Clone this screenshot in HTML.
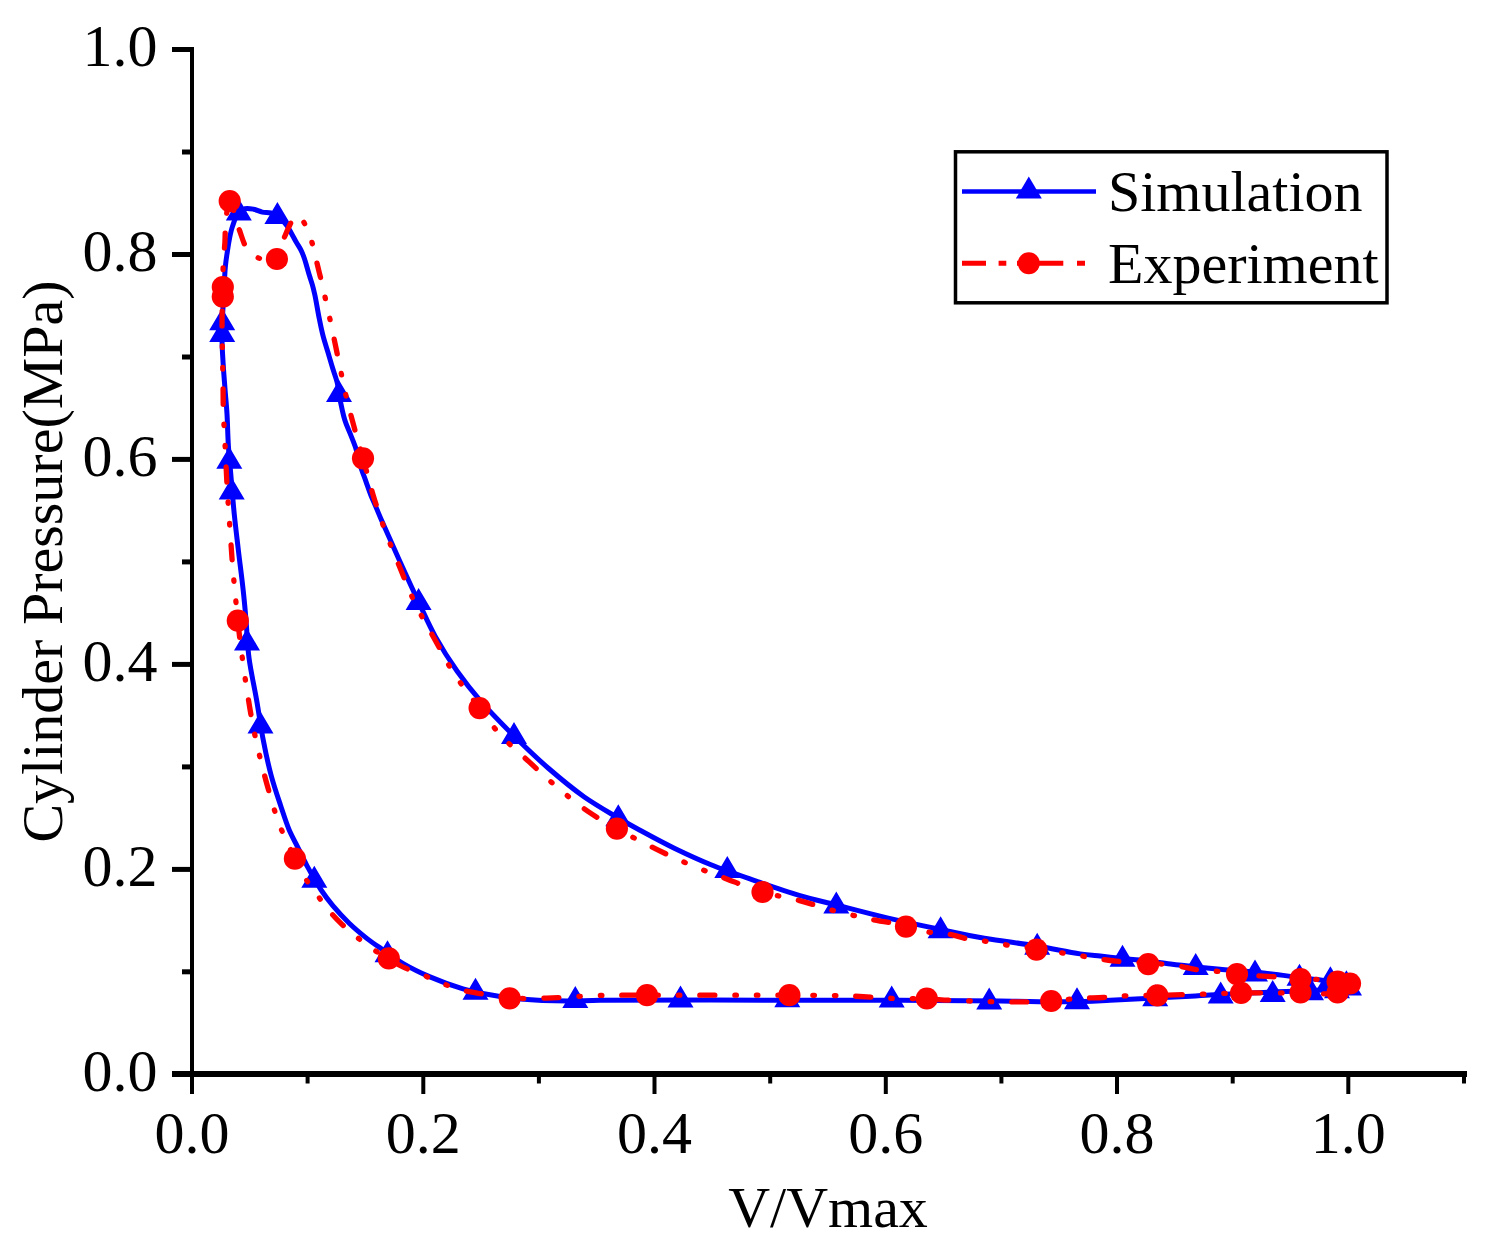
<!DOCTYPE html>
<html><head><meta charset="utf-8"><style>
html,body{margin:0;padding:0;background:#fff;}
svg{display:block;}
text{font-family:"Liberation Serif",serif;fill:#000;}
</style></head><body>
<svg width="1492" height="1253" viewBox="0 0 1492 1253">
<rect width="1492" height="1253" fill="#fff"/>
<!-- axes -->
<g stroke="#000" fill="none">
<line x1="192" y1="47" x2="192" y2="1077" stroke-width="4"/>
<line x1="172" y1="1074" x2="1467" y2="1074" stroke-width="6"/>
</g>
<g stroke="#000" stroke-width="4">
<line x1="192" y1="1074" x2="192" y2="1094"/>
<line x1="307.6" y1="1074" x2="307.6" y2="1083.5"/>
<line x1="423.3" y1="1074" x2="423.3" y2="1094"/>
<line x1="538.9" y1="1074" x2="538.9" y2="1083.5"/>
<line x1="654.5" y1="1074" x2="654.5" y2="1094"/>
<line x1="770.2" y1="1074" x2="770.2" y2="1083.5"/>
<line x1="885.8" y1="1074" x2="885.8" y2="1094"/>
<line x1="1001.4" y1="1074" x2="1001.4" y2="1083.5"/>
<line x1="1117" y1="1074" x2="1117" y2="1094"/>
<line x1="1232.7" y1="1074" x2="1232.7" y2="1083.5"/>
<line x1="1348.3" y1="1074" x2="1348.3" y2="1094"/>
<line x1="1464" y1="1074" x2="1464" y2="1083.5"/>
</g>
<g stroke="#000" stroke-width="5">
<line x1="172" y1="49.5" x2="192" y2="49.5"/>
<line x1="182" y1="152" x2="192" y2="152"/>
<line x1="172" y1="254.5" x2="192" y2="254.5"/>
<line x1="182" y1="357" x2="192" y2="357"/>
<line x1="172" y1="459.4" x2="192" y2="459.4"/>
<line x1="182" y1="561.9" x2="192" y2="561.9"/>
<line x1="172" y1="664.4" x2="192" y2="664.4"/>
<line x1="182" y1="766.9" x2="192" y2="766.9"/>
<line x1="172" y1="869.4" x2="192" y2="869.4"/>
<line x1="182" y1="971.8" x2="192" y2="971.8"/>
</g>
<!-- y tick labels -->
<g font-size="60" text-anchor="end">
<text x="157.5" y="66">1.0</text>
<text x="157.5" y="271">0.8</text>
<text x="157.5" y="476">0.6</text>
<text x="157.5" y="681">0.4</text>
<text x="157.5" y="886">0.2</text>
<text x="157.5" y="1091">0.0</text>
</g>
<!-- x tick labels -->
<g font-size="60" text-anchor="middle">
<text x="192" y="1153">0.0</text>
<text x="423.3" y="1153">0.2</text>
<text x="654.5" y="1153">0.4</text>
<text x="885.8" y="1153">0.6</text>
<text x="1117" y="1153">0.8</text>
<text x="1348.3" y="1153">1.0</text>
</g>
<text x="828" y="1227" font-size="58" text-anchor="middle">V/Vmax</text>
<text transform="translate(62,561.5) rotate(-90)" font-size="58" text-anchor="middle">Cylinder Pressure(MPa)</text>
<!-- plot -->
<path d="M1348.0 984.0 C1342.0 983.2 1335.5 982.3 1330.0 981.5 C1325.4 980.8 1321.8 980.1 1317.2 979.5 C1311.8 978.8 1306.4 978.3 1299.5 977.5 C1289.6 976.3 1276.2 974.4 1263.6 973.1 C1249.8 971.6 1232.4 970.3 1220.0 969.2 C1210.7 968.4 1203.9 967.8 1195.7 967.0 C1187.4 966.1 1179.3 965.2 1170.5 964.1 C1160.9 962.9 1149.1 961.1 1140.4 960.1 C1133.7 959.4 1128.8 959.1 1122.5 958.5 C1115.5 957.8 1107.4 956.9 1100.2 956.1 C1093.3 955.4 1088.0 955.1 1080.0 953.9 C1068.4 952.2 1052.2 948.5 1037.2 946.0 C1020.5 943.2 1001.1 941.2 984.4 938.3 C969.1 935.6 955.9 932.7 940.6 929.5 C923.7 926.0 904.8 922.0 887.2 917.9 C870.0 913.9 851.8 909.0 836.3 905.0 C823.2 901.6 812.6 899.3 800.0 895.6 C786.0 891.5 770.9 886.2 756.2 881.1 C741.2 875.9 725.1 870.5 711.0 864.8 C698.2 859.6 686.8 854.3 674.8 848.5 C662.6 842.6 648.9 835.1 638.6 829.5 C630.8 825.3 625.9 822.5 618.3 818.0 C608.4 812.1 595.6 804.9 584.3 797.0 C572.2 788.4 559.8 778.1 548.1 768.0 C536.4 757.8 525.2 747.0 514.0 736.0 C502.7 724.8 490.6 712.6 480.7 701.2 C471.9 691.0 464.5 681.6 457.0 671.0 C449.3 660.1 441.9 648.3 435.4 636.6 C429.1 625.3 424.4 614.2 418.6 602.0 C412.2 588.5 404.1 570.7 398.8 559.0 C395.2 551.0 392.7 545.3 389.8 538.8 C387.1 532.8 384.5 526.9 382.1 521.5 C380.0 516.8 378.3 512.6 376.4 508.1 C374.5 503.6 372.5 499.2 370.7 494.7 C369.0 490.3 367.5 485.8 365.9 481.3 C364.3 476.8 362.7 472.9 361.1 467.9 C359.1 461.7 357.3 452.9 355.3 446.8 C353.7 442.1 352.2 438.7 350.5 434.4 C348.7 429.8 346.5 425.6 344.8 420.0 C342.5 412.7 340.3 400.8 339.0 394.0 C338.2 389.7 338.3 387.2 337.4 383.4 C336.3 378.7 334.2 373.3 332.6 368.1 C331.0 362.8 329.4 357.2 327.8 351.8 C326.2 346.4 324.4 341.1 323.0 335.6 C321.5 330.0 320.5 324.6 319.2 318.3 C317.7 310.9 316.1 300.4 314.7 294.2 C313.8 290.3 313.2 287.7 312.3 284.6 C311.4 281.6 310.4 278.8 309.5 275.8 C308.5 272.7 307.6 269.2 306.7 266.2 C305.9 263.4 305.2 260.9 304.3 258.3 C303.4 255.6 302.4 252.9 301.1 250.3 C299.7 247.6 297.9 245.0 296.3 242.3 C294.7 239.5 293.1 236.4 291.5 233.5 C289.9 230.8 288.8 228.2 286.8 225.5 C284.4 222.3 280.4 218.1 277.4 216.0 C275.2 214.4 273.3 213.7 270.9 213.0 C268.3 212.3 265.1 212.7 262.3 212.1 C259.4 211.5 256.5 209.8 253.6 209.2 C250.8 208.7 247.6 208.1 245.0 208.7 C242.7 209.2 240.6 210.1 238.8 212.0 C236.1 214.9 234.2 221.5 232.6 226.0 C231.2 230.0 230.6 233.4 229.7 237.5 C228.8 242.0 228.0 247.0 227.3 251.8 C226.6 256.6 225.9 260.8 225.4 266.2 C224.7 273.1 224.5 281.6 224.0 290.0 C223.5 299.4 222.7 310.7 222.4 320.0 C222.1 328.1 222.0 335.3 222.1 342.6 C222.2 349.6 222.7 355.8 223.1 363.0 C223.6 371.1 224.3 380.1 225.0 388.6 C225.6 397.1 226.5 405.0 227.0 414.0 C227.6 424.0 227.7 435.3 228.4 446.0 C229.1 456.6 230.2 466.9 231.1 477.9 C232.1 489.7 233.1 502.5 234.3 514.6 C235.5 526.4 236.9 537.6 238.3 549.7 C239.8 562.6 241.8 577.2 243.1 589.6 C244.3 600.4 245.1 609.3 246.0 620.0 C247.0 631.9 247.3 645.0 249.0 657.9 C250.8 671.6 254.2 686.1 256.6 700.0 C259.0 713.6 260.8 727.4 263.3 740.3 C265.6 752.3 268.0 763.7 271.0 774.8 C273.8 785.4 277.4 795.9 280.6 805.5 C283.5 814.2 286.1 822.6 289.2 830.0 C292.0 836.5 295.1 841.9 298.1 847.9 C301.1 853.9 303.6 859.4 307.0 865.8 C311.1 873.3 316.4 883.0 321.1 890.0 C325.0 895.8 328.3 900.2 332.6 905.4 C337.5 911.3 343.4 917.6 349.2 923.2 C354.9 928.7 361.3 934.0 367.1 938.6 C372.3 942.7 376.8 945.6 382.4 949.4 C389.0 954.0 396.4 959.6 404.1 964.1 C412.2 968.8 420.7 972.9 430.0 976.9 C440.2 981.3 452.8 985.9 463.0 988.9 C471.6 991.4 478.4 992.7 487.1 994.3 C497.3 996.2 508.5 997.9 520.6 999.0 C534.9 1000.3 553.4 1000.9 567.6 1001.0 C579.4 1001.1 584.6 1000.5 600.0 1000.3 C638.3 999.9 744.8 1000.2 800.0 1000.2 C839.1 1000.2 866.7 1000.1 900.0 1000.2 C933.3 1000.3 969.6 1000.7 1000.0 1001.0 C1025.4 1001.2 1049.9 1002.1 1070.0 1001.8 C1085.2 1001.6 1096.8 1000.9 1110.2 1000.3 C1123.6 999.7 1137.0 999.0 1150.4 998.3 C1163.8 997.6 1179.6 996.9 1190.6 996.3 C1198.2 995.9 1201.9 995.5 1210.0 995.0 C1223.4 994.2 1245.7 993.2 1263.6 992.4 C1281.5 991.6 1301.8 991.1 1317.2 990.2 C1328.9 989.5 1345.3 990.9 1348.0 988.0 C1349.0 986.9 1348.0 985.3 1348.0 984.0" fill="none" stroke="#00f" stroke-width="5" stroke-linejoin="round"/>
<path d="M238.8 198.4L251.8 220.4L225.8 220.4ZM277.4 201.9L290.4 223.9L264.4 223.9ZM339.0 380.0L352.0 402.0L326.0 402.0ZM418.6 588.1L431.6 610.1L405.6 610.1ZM514.0 722.1L527.0 744.1L501.0 744.1ZM618.3 804.2L631.3 826.2L605.3 826.2ZM727.3 855.9L740.3 877.9L714.3 877.9ZM836.3 891.5L849.3 913.5L823.3 913.5ZM940.6 916.2L953.6 938.2L927.6 938.2ZM1037.2 932.7L1050.2 954.7L1024.2 954.7ZM1122.5 944.7L1135.5 966.7L1109.5 966.7ZM1195.7 953.1L1208.7 975.1L1182.7 975.1ZM1255.0 959.4L1268.0 981.4L1242.0 981.4ZM1299.5 963.7L1312.5 985.7L1286.5 985.7ZM1330.4 966.3L1343.4 988.3L1317.4 988.3ZM1346.4 970.3L1359.4 992.3L1333.4 992.3ZM222.2 308.3L235.2 330.3L209.2 330.3ZM222.2 319.9L235.2 341.9L209.2 341.9ZM229.3 446.8L242.3 468.8L216.3 468.8ZM231.7 477.5L244.7 499.5L218.7 499.5ZM247.0 628.4L260.0 650.4L234.0 650.4ZM260.5 711.6L273.5 733.6L247.5 733.6ZM314.3 865.7L327.3 887.7L301.3 887.7ZM387.5 940.3L400.5 962.3L374.5 962.3ZM475.5 977.8L488.5 999.8L462.5 999.8ZM575.3 986.1L588.3 1008.1L562.3 1008.1ZM680.5 985.6L693.5 1007.6L667.5 1007.6ZM787.3 985.3L800.3 1007.3L774.3 1007.3ZM891.7 985.5L904.7 1007.5L878.7 1007.5ZM989.2 987.4L1002.2 1009.4L976.2 1009.4ZM1077.0 987.2L1090.0 1009.2L1064.0 1009.2ZM1155.2 984.3L1168.2 1006.3L1142.2 1006.3ZM1220.7 981.5L1233.7 1003.5L1207.7 1003.5ZM1272.7 980.0L1285.7 1002.0L1259.7 1002.0ZM1311.0 978.3L1324.0 1000.3L1298.0 1000.3ZM1337.0 976.2L1350.0 998.2L1324.0 998.2ZM1349.0 973.5L1362.0 995.5L1336.0 995.5Z" fill="#00f"/>
<path d="M1351.5 984.3 C1346.9 983.2 1343.4 982.0 1337.6 981.1 C1328.2 979.7 1314.2 979.4 1300.1 978.4 C1281.8 977.1 1252.4 975.7 1237.0 974.1 C1228.0 973.2 1222.7 971.9 1215.8 971.2 C1209.3 970.5 1203.1 970.6 1196.7 969.7 C1190.1 968.8 1183.9 966.7 1176.6 965.6 C1168.0 964.3 1157.6 963.8 1148.2 963.1 C1138.9 962.4 1128.8 962.4 1120.3 961.6 C1113.0 961.0 1106.7 960.0 1100.2 959.1 C1094.0 958.2 1088.2 957.1 1082.0 956.1 C1075.5 955.0 1069.1 954.1 1062.1 952.9 C1054.1 951.6 1045.3 949.9 1036.5 948.6 C1027.2 947.3 1016.3 946.4 1007.7 945.1 C1000.6 944.0 994.8 942.6 988.3 941.6 C981.8 940.6 975.2 940.5 968.8 939.3 C962.5 938.1 956.6 935.5 950.3 934.4 C944.0 933.3 937.7 933.8 930.9 932.5 C923.1 931.0 914.9 927.6 906.0 925.6 C896.0 923.3 884.8 922.1 873.6 919.8 C861.4 917.3 848.2 914.3 835.7 911.1 C823.2 907.9 811.0 903.6 798.7 900.4 C786.6 897.3 774.5 895.6 762.5 892.0 C750.1 888.3 737.4 882.9 725.4 878.4 C714.0 874.1 703.2 870.2 692.0 865.5 C680.3 860.6 668.7 855.3 656.7 849.4 C643.7 843.1 629.0 835.4 616.9 828.6 C606.4 822.7 597.4 817.9 587.9 811.4 C577.8 804.5 567.7 796.1 558.0 787.9 C548.4 779.8 539.4 771.3 530.0 762.6 C520.2 753.5 508.8 744.2 500.1 734.6 C492.2 726.0 486.8 717.6 479.6 708.1 C471.4 697.3 461.5 685.0 453.8 673.2 C446.5 661.9 440.8 650.3 434.4 638.7 C427.9 626.9 420.8 615.1 415.0 603.1 C409.3 591.4 404.9 579.6 399.9 567.6 C394.8 555.2 389.4 542.4 384.8 529.9 C380.4 517.9 376.5 506.2 372.9 494.3 C369.3 482.4 366.0 468.8 363.0 458.3 C360.7 450.1 359.0 444.8 356.7 436.5 C353.7 425.5 349.7 411.1 346.6 398.2 C343.5 385.2 341.0 372.0 338.3 359.0 C335.6 346.2 333.1 333.5 330.3 320.8 C327.5 308.0 324.2 293.1 321.7 282.4 C319.9 274.7 318.4 269.1 316.9 262.7 C315.4 256.5 314.5 250.7 312.6 244.5 C310.6 237.9 307.7 229.5 305.0 224.4 C303.1 220.8 301.1 216.6 299.0 216.0 C297.5 215.5 295.9 216.4 294.3 217.8 C291.0 220.8 287.2 230.7 284.3 237.5 C281.4 244.4 281.5 255.8 276.9 259.0 C273.1 261.7 266.1 260.5 261.3 259.0 C256.4 257.5 251.4 254.2 247.9 249.9 C243.8 244.9 242.1 237.2 239.3 229.8 C236.0 221.1 232.0 201.0 229.7 201.1 C227.9 201.2 226.7 213.6 225.9 220.2 C225.0 227.3 225.3 234.9 224.9 242.3 C224.4 249.8 223.5 257.5 223.2 265.0 C222.9 272.4 222.9 281.2 222.8 287.0 C222.8 290.9 222.9 292.9 222.8 296.6 C222.7 301.5 222.2 307.8 222.1 313.8 C222.0 320.5 222.0 327.9 222.1 335.0 C222.2 342.2 222.4 348.9 222.5 356.6 C222.7 365.4 222.9 375.5 223.0 385.0 C223.2 394.6 223.1 405.3 223.4 414.1 C223.7 421.5 224.2 427.8 224.6 434.5 C224.9 441.1 225.1 446.4 225.5 454.0 C226.0 464.8 226.7 479.9 227.5 493.0 C228.3 506.5 229.4 520.5 230.3 533.8 C231.2 546.6 232.1 560.5 233.0 571.3 C233.7 579.5 234.4 585.2 235.1 592.8 C235.9 601.5 236.8 611.3 237.8 620.7 C238.8 630.4 239.9 639.7 241.3 650.3 C242.9 662.7 244.9 677.4 247.0 690.5 C249.0 703.2 250.9 715.3 253.4 727.9 C256.0 740.9 259.2 754.4 262.4 767.2 C265.5 779.6 269.4 793.2 272.5 803.6 C274.9 811.5 276.6 817.5 279.2 824.3 C281.9 831.3 285.7 838.8 288.5 845.0 C290.8 850.0 292.5 853.9 294.9 858.7 C297.6 864.2 300.4 870.4 303.8 876.0 C307.4 881.9 312.0 887.7 316.0 893.2 C319.7 898.3 322.9 903.1 326.8 907.9 C330.9 912.9 335.5 918.0 340.2 922.6 C344.9 927.2 349.8 931.2 354.9 935.4 C360.1 939.7 365.3 944.3 370.9 948.1 C376.6 951.9 383.3 955.1 388.8 958.4 C393.6 961.2 396.9 963.9 402.0 966.5 C408.4 969.7 417.3 972.6 424.5 975.6 C431.3 978.5 437.6 981.7 444.2 984.2 C450.5 986.6 456.8 988.7 463.0 990.3 C468.9 991.8 474.7 992.7 480.4 993.6 C485.9 994.5 491.4 994.9 496.5 995.6 C501.1 996.2 505.4 997.0 509.7 997.5 C513.9 998.0 516.8 998.4 522.0 998.5 C530.9 998.7 545.9 998.1 558.2 997.6 C571.1 997.1 583.8 995.9 597.7 995.5 C613.2 995.0 626.3 995.3 647.0 995.2 C682.2 995.1 756.0 995.1 789.4 995.2 C807.5 995.3 820.1 995.3 831.3 995.5 C838.8 995.6 842.7 995.7 850.0 996.0 C860.6 996.4 875.8 997.7 888.6 998.2 C901.4 998.7 915.8 998.4 926.8 998.8 C935.2 999.1 940.6 999.8 949.0 1000.2 C960.1 1000.7 974.8 1001.2 987.5 1001.5 C999.9 1001.8 1013.1 1002.0 1024.4 1001.9 C1034.0 1001.8 1042.1 1001.6 1051.2 1001.0 C1060.6 1000.4 1070.9 998.9 1080.0 998.3 C1088.1 997.8 1096.1 997.9 1103.2 997.5 C1109.3 997.1 1113.5 996.4 1120.3 996.0 C1130.3 995.5 1144.7 995.6 1157.3 995.3 C1170.3 995.0 1183.6 994.7 1197.2 994.3 C1211.5 993.9 1225.4 993.2 1241.1 992.9 C1259.4 992.6 1283.1 993.0 1300.6 992.9 C1314.4 992.8 1328.5 995.2 1337.6 992.6 C1343.6 990.9 1346.9 987.1 1351.5 984.3" fill="none" stroke="#f00" stroke-width="5.3" stroke-linecap="round" stroke-linejoin="round" stroke-dasharray="15 20 1.5 20 1.5 20"/>
<g fill="#f00">
<circle cx="229.7" cy="201.1" r="11.1"/>
<circle cx="276.9" cy="259.0" r="11.1"/>
<circle cx="222.8" cy="287.0" r="11.1"/>
<circle cx="222.8" cy="296.6" r="11.1"/>
<circle cx="237.8" cy="620.7" r="11.1"/>
<circle cx="294.9" cy="858.7" r="11.1"/>
<circle cx="388.8" cy="958.4" r="11.1"/>
<circle cx="509.7" cy="998.3" r="11.1"/>
<circle cx="647.0" cy="995.2" r="11.1"/>
<circle cx="789.4" cy="995.2" r="11.1"/>
<circle cx="926.8" cy="998.5" r="11.1"/>
<circle cx="1051.2" cy="1001.0" r="11.1"/>
<circle cx="1157.3" cy="995.3" r="11.1"/>
<circle cx="1241.1" cy="992.9" r="11.1"/>
<circle cx="1300.5" cy="992.5" r="11.1"/>
<circle cx="1337.6" cy="992.5" r="11.1"/>
<circle cx="1350.0" cy="983.5" r="11.1"/>
<circle cx="1337.6" cy="981.5" r="11.1"/>
<circle cx="1300.5" cy="979.0" r="11.1"/>
<circle cx="1237.0" cy="974.1" r="11.1"/>
<circle cx="1148.2" cy="964.1" r="11.1"/>
<circle cx="1036.5" cy="949.6" r="11.1"/>
<circle cx="906.0" cy="926.6" r="11.1"/>
<circle cx="762.5" cy="892.0" r="11.1"/>
<circle cx="616.9" cy="828.6" r="11.1"/>
<circle cx="479.6" cy="708.1" r="11.1"/>
<circle cx="363.0" cy="458.3" r="11.1"/>
</g>
<!-- legend -->
<rect x="955.5" y="151.8" width="431.5" height="151" fill="#fff" stroke="#000" stroke-width="3.5"/>
<line x1="962" y1="191.5" x2="1096" y2="191.5" stroke="#00f" stroke-width="4.5"/>
<path d="M1028.8 176.5 L1041.8 198.6 L1015.8 198.6 Z" fill="#00f"/>
<text x="1108" y="211" font-size="58">Simulation</text>
<path d="M962 263.3H986M998.6 263.3H1006.3M1017 263.3H1040M1039 263.3H1063.3M1077 263.3H1085" stroke="#f00" stroke-width="5"/>
<circle cx="1028.8" cy="263.3" r="11" fill="#f00"/>
<text x="1108" y="283" font-size="58">Experiment</text>
</svg>
</body></html>
